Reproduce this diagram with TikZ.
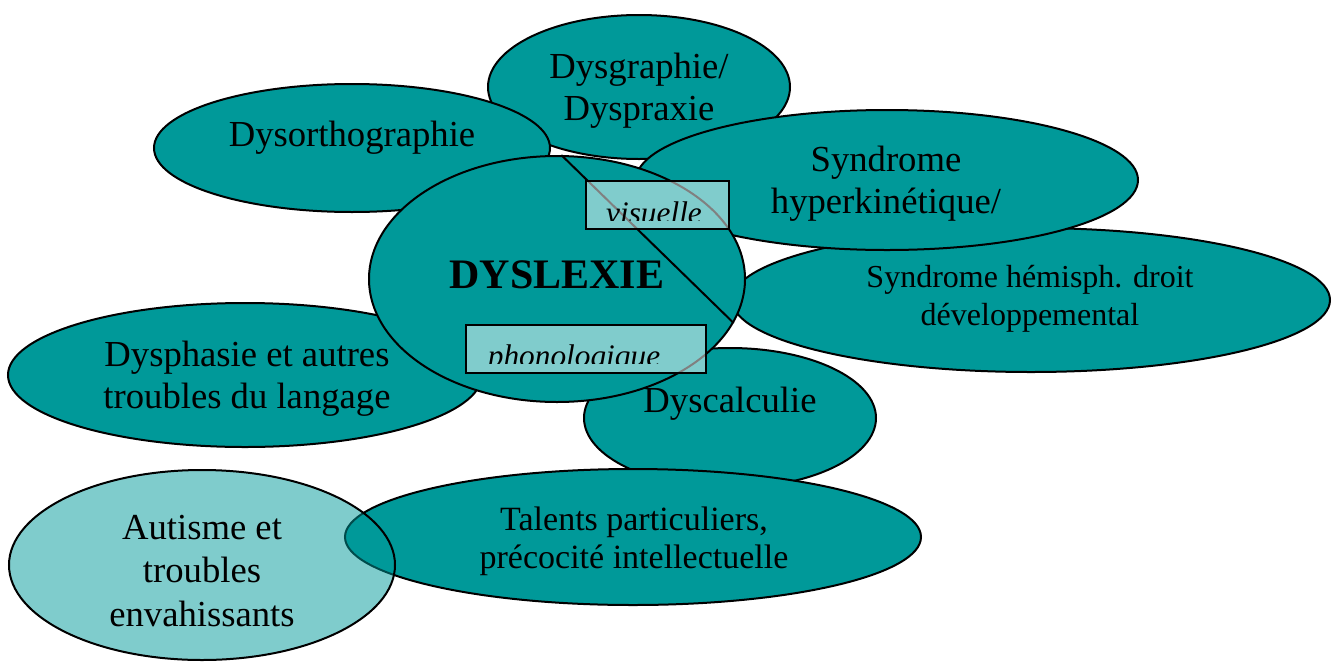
\documentclass[tikz,border=0pt]{standalone}
\usepackage{fontspec}
\setmainfont{Liberation Serif}
\usetikzlibrary{shapes.geometric}
\definecolor{dysteal}{HTML}{009999}
\tikzset{
  blob/.style={ellipse, draw, line width=1.5pt, fill=dysteal, inner sep=0pt},
  ellsize/.style 2 args={minimum width=#1*0.75pt, minimum height=#2*0.75pt},
  txt/.style={align=center, inner sep=0pt, anchor=base, font=\fontsize{27.5}{31.5}\selectfont},
  small/.style={font=\fontsize{24}{28.5}\selectfont},
  tag/.style={draw, line width=1.5pt, fill=white, fill opacity=0.5, inner sep=0pt},
}
\begin{document}
\begin{tikzpicture}[x=0.75pt,y=-0.75pt]
\useasboundingbox (0,0) rectangle (1332,661);
\node[blob, ellsize={302}{144}] (graph) at (639,87) {};
\node[txt] (graphtxt) at (639,120) {Dysgraphie/\\Dyspraxie};
\node[blob, ellsize={396}{128}] (ortho) at (352,148) {};
\node[txt] (orthotxt) at (352,146) {Dysorthographie};
\node[blob, ellsize={598}{144}] (hemi) at (1031,300) {};
\node[txt, small] (hemitxt) at (1030,325) {Syndrome hémisph. droit\\développemental};
\node[blob, ellsize={502}{140}] (hyper) at (887,180) {};
\node[txt] (hypertxt) at (886,213) {Syndrome\\hyperkinétique/};
\node[blob, ellsize={474}{144}] (phas) at (245,375) {};
\node[txt] (phastxt) at (247,408) {Dysphasie et autres\\troubles du langage};
\node[blob, ellsize={292}{140}] (calc) at (730,418) {};
\node[txt] (calctxt) at (730,412) {Dyscalculie};
\node[blob, ellsize={576}{136}] (talent) at (633,537) {};
\node[txt, font=\fontsize{25.5}{28.5}\selectfont] (talenttxt) at (634,568) {Talents particuliers,\\précocité intellectuelle};
\node[blob, ellsize={376}{246}] (dys) at (557,279) {};
\node[txt, font=\fontsize{31.5}{36}\selectfont\bfseries] (dystxt) at (557,288) {DYSLEXIE};
\draw[line width=1.5pt] (dys.88) -- (dys.-14.5);
\node[tag, minimum width=143*0.75pt, minimum height=48*0.75pt] (vis) at (657.5,205) {};
\begin{scope}
\clip (vis.north west) rectangle ([yshift=7.5pt]vis.south east);
\node[txt, font=\fontsize{23.5}{28}\selectfont\itshape] (vistxt) at (654,223) {visuelle};
\end{scope}
\node[tag, minimum width=240*0.75pt, minimum height=48*0.75pt] (phon) at (586,349) {};
\begin{scope}
\clip (phon.north west) rectangle ([yshift=8pt]phon.south east);
\node[txt, font=\fontsize{23.5}{28}\selectfont\itshape] (phontxt) at (574,366) {phonologique};
\end{scope}
\node[blob, fill opacity=0.5, ellsize={386}{190}] (autism) at (202,565) {};
\node[txt, font=\fontsize{27.5}{32.5}\selectfont] (autismtxt) at (202,626) {Autisme et\\troubles\\envahissants};
\end{tikzpicture}
\end{document}
